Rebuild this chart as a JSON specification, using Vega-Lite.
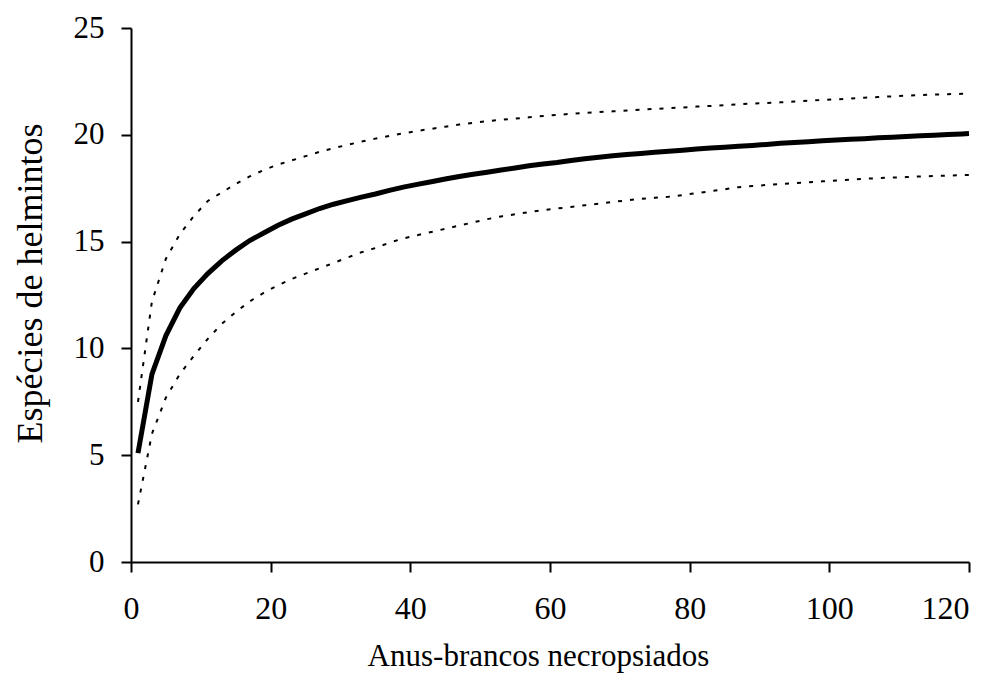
{
  "$schema": "https://vega.github.io/schema/vega-lite/v6.json",
  "width": 838,
  "height": 534,
  "autosize": {"type": "none"},
  "padding": {"left": 131, "top": 28, "right": 28, "bottom": 125},
  "background": "white",
  "config": {
    "view": {"stroke": null},
    "axis": {
      "grid": false,
      "domainColor": "black",
      "tickColor": "black",
      "labelColor": "black",
      "titleColor": "black",
      "labelFont": "Liberation Serif",
      "titleFont": "Liberation Serif",
      "labelFontSize": 31,
      "titleFontSize": 31,
      "titleFontWeight": "normal",
      "domainWidth": 2,
      "tickWidth": 2,
      "tickSize": 10
    }
  },
  "data": {
    "values": [
      {"n": 1, "media": 5.1, "sup": 7.5, "inf": 2.7},
      {"n": 3, "media": 8.8, "sup": 12.2, "inf": 6.0},
      {"n": 5, "media": 10.6, "sup": 14.2, "inf": 7.7},
      {"n": 7, "media": 11.9, "sup": 15.35, "inf": 8.8},
      {"n": 9, "media": 12.8, "sup": 16.2, "inf": 9.65},
      {"n": 11, "media": 13.5, "sup": 16.9, "inf": 10.45},
      {"n": 13, "media": 14.1, "sup": 17.3, "inf": 11.15},
      {"n": 15, "media": 14.6, "sup": 17.7, "inf": 11.7},
      {"n": 17, "media": 15.05, "sup": 18.05, "inf": 12.2},
      {"n": 19, "media": 15.4, "sup": 18.35, "inf": 12.6},
      {"n": 21, "media": 15.75, "sup": 18.6, "inf": 12.95},
      {"n": 23, "media": 16.05, "sup": 18.8, "inf": 13.25},
      {"n": 25, "media": 16.3, "sup": 19.0, "inf": 13.5},
      {"n": 27, "media": 16.55, "sup": 19.2, "inf": 13.75},
      {"n": 29, "media": 16.75, "sup": 19.37, "inf": 14.0},
      {"n": 31, "media": 16.92, "sup": 19.53, "inf": 14.25},
      {"n": 33, "media": 17.08, "sup": 19.68, "inf": 14.5},
      {"n": 35, "media": 17.23, "sup": 19.82, "inf": 14.7},
      {"n": 37, "media": 17.4, "sup": 19.95, "inf": 14.95},
      {"n": 39, "media": 17.55, "sup": 20.07, "inf": 15.15},
      {"n": 41, "media": 17.68, "sup": 20.18, "inf": 15.3},
      {"n": 43, "media": 17.8, "sup": 20.28, "inf": 15.45},
      {"n": 45, "media": 17.93, "sup": 20.38, "inf": 15.6},
      {"n": 47, "media": 18.05, "sup": 20.48, "inf": 15.75},
      {"n": 49, "media": 18.15, "sup": 20.56, "inf": 15.9},
      {"n": 51, "media": 18.25, "sup": 20.64, "inf": 16.05},
      {"n": 53, "media": 18.35, "sup": 20.7, "inf": 16.18},
      {"n": 55, "media": 18.45, "sup": 20.76, "inf": 16.28},
      {"n": 57, "media": 18.55, "sup": 20.82, "inf": 16.38},
      {"n": 59, "media": 18.63, "sup": 20.88, "inf": 16.47},
      {"n": 61, "media": 18.7, "sup": 20.93, "inf": 16.55},
      {"n": 63, "media": 18.8, "sup": 20.98, "inf": 16.62},
      {"n": 65, "media": 18.88, "sup": 21.02, "inf": 16.7},
      {"n": 67, "media": 18.95, "sup": 21.06, "inf": 16.78},
      {"n": 69, "media": 19.02, "sup": 21.1, "inf": 16.86},
      {"n": 71, "media": 19.08, "sup": 21.14, "inf": 16.93},
      {"n": 73, "media": 19.13, "sup": 21.18, "inf": 17.0},
      {"n": 75, "media": 19.18, "sup": 21.21, "inf": 17.05},
      {"n": 77, "media": 19.23, "sup": 21.25, "inf": 17.1},
      {"n": 79, "media": 19.28, "sup": 21.28, "inf": 17.18},
      {"n": 81, "media": 19.33, "sup": 21.32, "inf": 17.27},
      {"n": 83, "media": 19.38, "sup": 21.35, "inf": 17.36},
      {"n": 85, "media": 19.42, "sup": 21.39, "inf": 17.45},
      {"n": 87, "media": 19.46, "sup": 21.43, "inf": 17.55},
      {"n": 89, "media": 19.5, "sup": 21.46, "inf": 17.6},
      {"n": 91, "media": 19.55, "sup": 21.49, "inf": 17.65},
      {"n": 93, "media": 19.6, "sup": 21.52, "inf": 17.7},
      {"n": 95, "media": 19.64, "sup": 21.56, "inf": 17.74},
      {"n": 97, "media": 19.68, "sup": 21.6, "inf": 17.78},
      {"n": 99, "media": 19.72, "sup": 21.63, "inf": 17.82},
      {"n": 101, "media": 19.76, "sup": 21.66, "inf": 17.86},
      {"n": 103, "media": 19.79, "sup": 21.7, "inf": 17.9},
      {"n": 105, "media": 19.82, "sup": 21.74, "inf": 17.94},
      {"n": 107, "media": 19.86, "sup": 21.77, "inf": 17.97},
      {"n": 109, "media": 19.89, "sup": 21.8, "inf": 18.0},
      {"n": 111, "media": 19.92, "sup": 21.83, "inf": 18.02},
      {"n": 113, "media": 19.95, "sup": 21.86, "inf": 18.05},
      {"n": 115, "media": 19.98, "sup": 21.88, "inf": 18.07},
      {"n": 117, "media": 20.01, "sup": 21.9, "inf": 18.09},
      {"n": 119, "media": 20.04, "sup": 21.92, "inf": 18.11},
      {"n": 120, "media": 20.06, "sup": 21.93, "inf": 18.12}
    ]
  },
  "encoding": {
    "x": {
      "field": "n",
      "type": "quantitative",
      "scale": {"domain": [0, 120], "nice": false},
      "axis": {
        "title": "Anus-brancos necropsiados",
        "values": [0, 20, 40, 60, 80, 100, 120],
        "labelBaseline": "alphabetic",
        "labelPadding": 46,
        "labelFontSize": 32,
        "labelAlign": {"expr": "datum.value == 120 ? 'right' : 'center'"},
        "labelFlush": false,
        "titleX": 407,
        "titleY": 103,
        "titleBaseline": "alphabetic",
        "titleAlign": "center"
      }
    }
  },
  "layer": [
    {
      "mark": {"type": "line", "color": "black", "strokeWidth": 2, "strokeDash": [4, 8]},
      "encoding": {
        "y": {
          "field": "sup",
          "type": "quantitative",
          "scale": {"domain": [0, 25], "nice": false},
          "axis": {
            "title": "Espécies de helmintos",
            "values": [0, 5, 10, 15, 20, 25],
            "labelPadding": 17,
            "labelFlush": false,
            "titleFontSize": 36,
            "titleX": -101,
            "titleY": 255,
            "titleAngle": -90,
            "titleBaseline": "middle",
            "titleAlign": "center"
          }
        }
      }
    },
    {
      "mark": {"type": "line", "color": "black", "strokeWidth": 2, "strokeDash": [4, 8]},
      "encoding": {"y": {"field": "inf", "type": "quantitative"}}
    },
    {
      "mark": {"type": "line", "color": "black", "strokeWidth": 5},
      "encoding": {"y": {"field": "media", "type": "quantitative"}}
    }
  ]
}
